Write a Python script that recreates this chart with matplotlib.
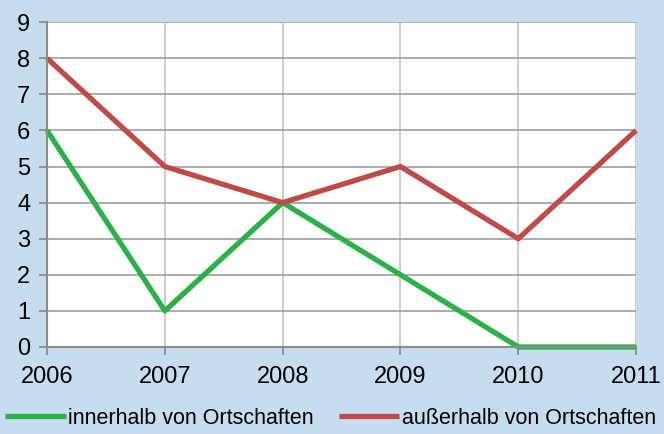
import matplotlib
matplotlib.use("Agg")
from matplotlib import pyplot as plt
from matplotlib import font_manager

years = [2006, 2007, 2008, 2009, 2010, 2011]
innerhalb = [6, 1, 4, 2, 0, 0]
ausserhalb = [8, 5, 4, 5, 3, 6]
labels = ["innerhalb von Ortschaften", "außerhalb von Ortschaften"]

names = {f.name for f in font_manager.fontManager.ttflist}
family = "Liberation Sans Narrow" if "Liberation Sans Narrow" in names else "Liberation Sans"
plt.rcParams["font.family"] = [family, "DejaVu Sans"]

bg = "#c6ddf0"
fig = plt.figure(figsize=(6.64, 4.34), dpi=100, facecolor=bg)
ax = fig.add_axes([0.0708, 0.2005, 0.8872, 0.7485])
ax.set_facecolor("white")

ax.plot(years, innerhalb, color="#2bb04a", linewidth=3.8, label=labels[0],
        solid_capstyle="butt", clip_on=False)
ax.plot(years, ausserhalb, color="#be4b48", linewidth=3.8, label=labels[1],
        solid_capstyle="butt", clip_on=False)

ax.set_xlim(2006, 2011)
ax.set_ylim(0, 9)
ax.set_xticks(years)
ax.set_yticks(range(10))
ax.yaxis.grid(True, color="#a6a6a6", linewidth=1.3)
ax.xaxis.grid(True, color="#c8c8c8", linewidth=1.3)
ax.set_axisbelow(True)
for side in ["top", "right"]:
    ax.spines[side].set_visible(False)
for side in ["left", "bottom"]:
    ax.spines[side].set_color("#8c8c8c")
    ax.spines[side].set_linewidth(1.5)
ax.tick_params(axis="y", length=6, width=1.3, color="#8c8c8c", labelsize=17, pad=6)
ax.tick_params(axis="x", length=6, width=1.3, color="#8c8c8c", labelsize=17, pad=8)

fs = 15.5 if family == "Liberation Sans" else 17
leg = fig.legend(loc="lower left", bbox_to_anchor=(0.008, 0.012), ncol=2, frameon=False,
                 fontsize=fs, handlelength=2.8, handletextpad=0.1, columnspacing=1.2,
                 borderaxespad=0.0, borderpad=0.0)

fig.savefig("out.png", dpi=100, facecolor=bg)
